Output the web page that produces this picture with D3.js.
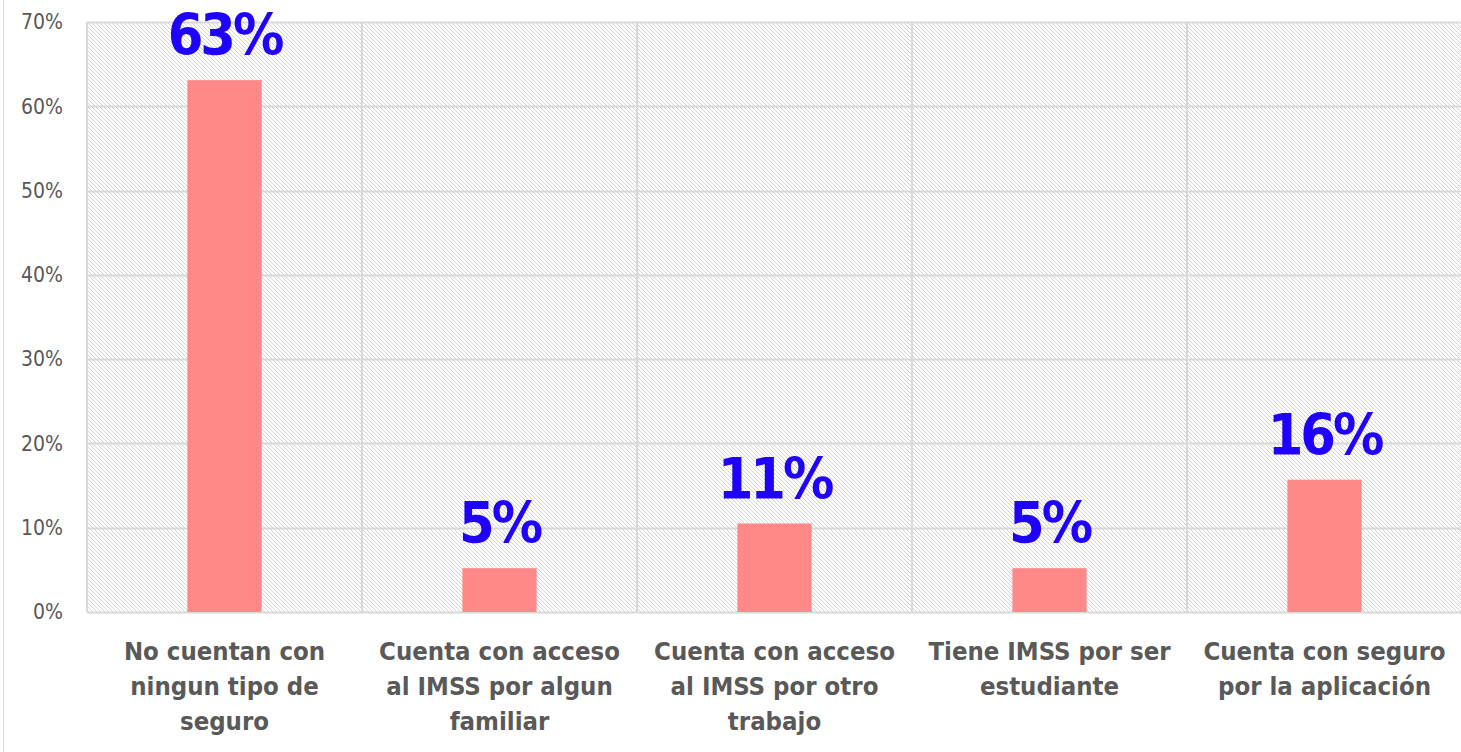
<!DOCTYPE html>
<html>
<head>
<meta charset="utf-8">
<script src="https://cdn.jsdelivr.net/npm/d3@7"></script>
<style>
  body { margin: 0; background: #fff; }
  svg text { font-family: "DejaVu Sans Condensed", "DejaVu Sans", sans-serif; }
</style>
</head>
<body>
<div id="chart"></div>
<script>
// chart data
var categories = [
  ["No cuentan con", "ningun tipo de", "seguro"],
  ["Cuenta con acceso", "al IMSS por algun", "familiar"],
  ["Cuenta con acceso", "al IMSS por otro", "trabajo"],
  ["Tiene IMSS por ser", "estudiante"],
  ["Cuenta con seguro", "por la aplicación"]
];
var values = [0.631, 0.052, 0.105, 0.052, 0.157];
var labels = ["63%", "5%", "11%", "5%", "16%"];
var yTicks = [0, 0.1, 0.2, 0.3, 0.4, 0.5, 0.6, 0.7];

var svgWidth = 1461;
var svgHeight = 752;

var margin = { top: 22, right: -1, bottom: 140, left: 87 };
var width = svgWidth - margin.left - margin.right;
var height = svgHeight - margin.top - margin.bottom;

var svg = d3.select("#chart")
  .append("svg")
  .attr("width", svgWidth)
  .attr("height", svgHeight);

// pixel hatch pattern for the plot background
var defs = svg.append("defs");
var pat = defs.append("pattern")
  .attr("id", "hatch")
  .attr("patternUnits", "userSpaceOnUse")
  .attr("width", 4)
  .attr("height", 4);
pat.selectAll("rect")
  .data([0, 1, 2, 3])
  .enter()
  .append("rect")
  .attr("x", d => d)
  .attr("y", d => d)
  .attr("width", 1)
  .attr("height", 1)
  .attr("shape-rendering", "crispEdges")
  .attr("fill", "#d2d2d2");

// faint frame line on the left edge
svg.append("line")
  .attr("x1", 3.5).attr("x2", 3.5)
  .attr("y1", 0).attr("y2", svgHeight)
  .attr("stroke", "#d9d9d9");

var chartGroup = svg.append("g")
  .attr("transform", `translate(${margin.left}, ${margin.top})`);

var xScale = d3.scaleBand()
  .domain(d3.range(categories.length))
  .range([0, width])
  .paddingInner(0.73)
  .paddingOuter(0.365);

var yScale = d3.scaleLinear()
  .domain([0, 0.7])
  .range([height, 0]);

chartGroup.append("rect")
  .attr("width", width)
  .attr("height", height)
  .attr("fill", "url(#hatch)");

// horizontal gridlines
chartGroup.append("g")
  .selectAll("line")
  .data(yTicks)
  .enter()
  .append("line")
  .attr("x1", 0)
  .attr("x2", width)
  .attr("y1", d => Math.round(yScale(d)) + 0.5)
  .attr("y2", d => Math.round(yScale(d)) + 0.5)
  .attr("stroke", "#d9d9d9")
  .attr("stroke-width", 2);

// vertical category separators
var step = width / categories.length;
chartGroup.append("g")
  .selectAll("line")
  .data(d3.range(categories.length + 1))
  .enter()
  .append("line")
  .attr("x1", d => d * step)
  .attr("x2", d => d * step)
  .attr("y1", 0)
  .attr("y2", height)
  .attr("stroke", "#d9d9d9")
  .attr("stroke-width", 2);

// y axis labels
var yAxis = d3.axisLeft(yScale)
  .tickValues(yTicks)
  .tickFormat(d3.format(".0%"))
  .tickSize(0)
  .tickPadding(24);

var yG = chartGroup.append("g").call(yAxis);
yG.select(".domain").remove();
yG.selectAll("text")
  .attr("fill", "#595959")
  .style("font-size", "21px")
  .style("font-family", "\"DejaVu Sans Condensed\", \"DejaVu Sans\", sans-serif");

// bars
chartGroup.selectAll(".bar")
  .data(values)
  .enter()
  .append("rect")
  .attr("class", "bar")
  .attr("x", (d, i) => xScale(i))
  .attr("y", d => yScale(d))
  .attr("width", xScale.bandwidth())
  .attr("height", d => height - yScale(d))
  .attr("fill", "#ff8888");

// value labels
chartGroup.selectAll(".val")
  .data(values)
  .enter()
  .append("text")
  .attr("class", "val")
  .attr("x", (d, i) => xScale(i) + xScale.bandwidth() / 2)
  .attr("y", d => yScale(d) - 25)
  .attr("text-anchor", "middle")
  .attr("fill", "#1f00ff")
  .style("font-size", "57px")
  .style("font-weight", "bold")
  .style("letter-spacing", "-3px")
  .text((d, i) => labels[i]);

// category labels
var catG = chartGroup.selectAll(".cat")
  .data(categories)
  .enter()
  .append("text")
  .attr("class", "cat")
  .attr("text-anchor", "middle")
  .attr("fill", "#595959")
  .style("font-size", "25.5px")
  .style("font-weight", "bold")
  .attr("transform", (d, i) => `translate(${xScale(i) + xScale.bandwidth() / 2}, ${height + 48})`);

catG.selectAll("tspan")
  .data(d => d)
  .enter()
  .append("tspan")
  .attr("x", 0)
  .attr("y", (d, i) => i * 35)
  .text(d => d);
</script>
</body>
</html>
